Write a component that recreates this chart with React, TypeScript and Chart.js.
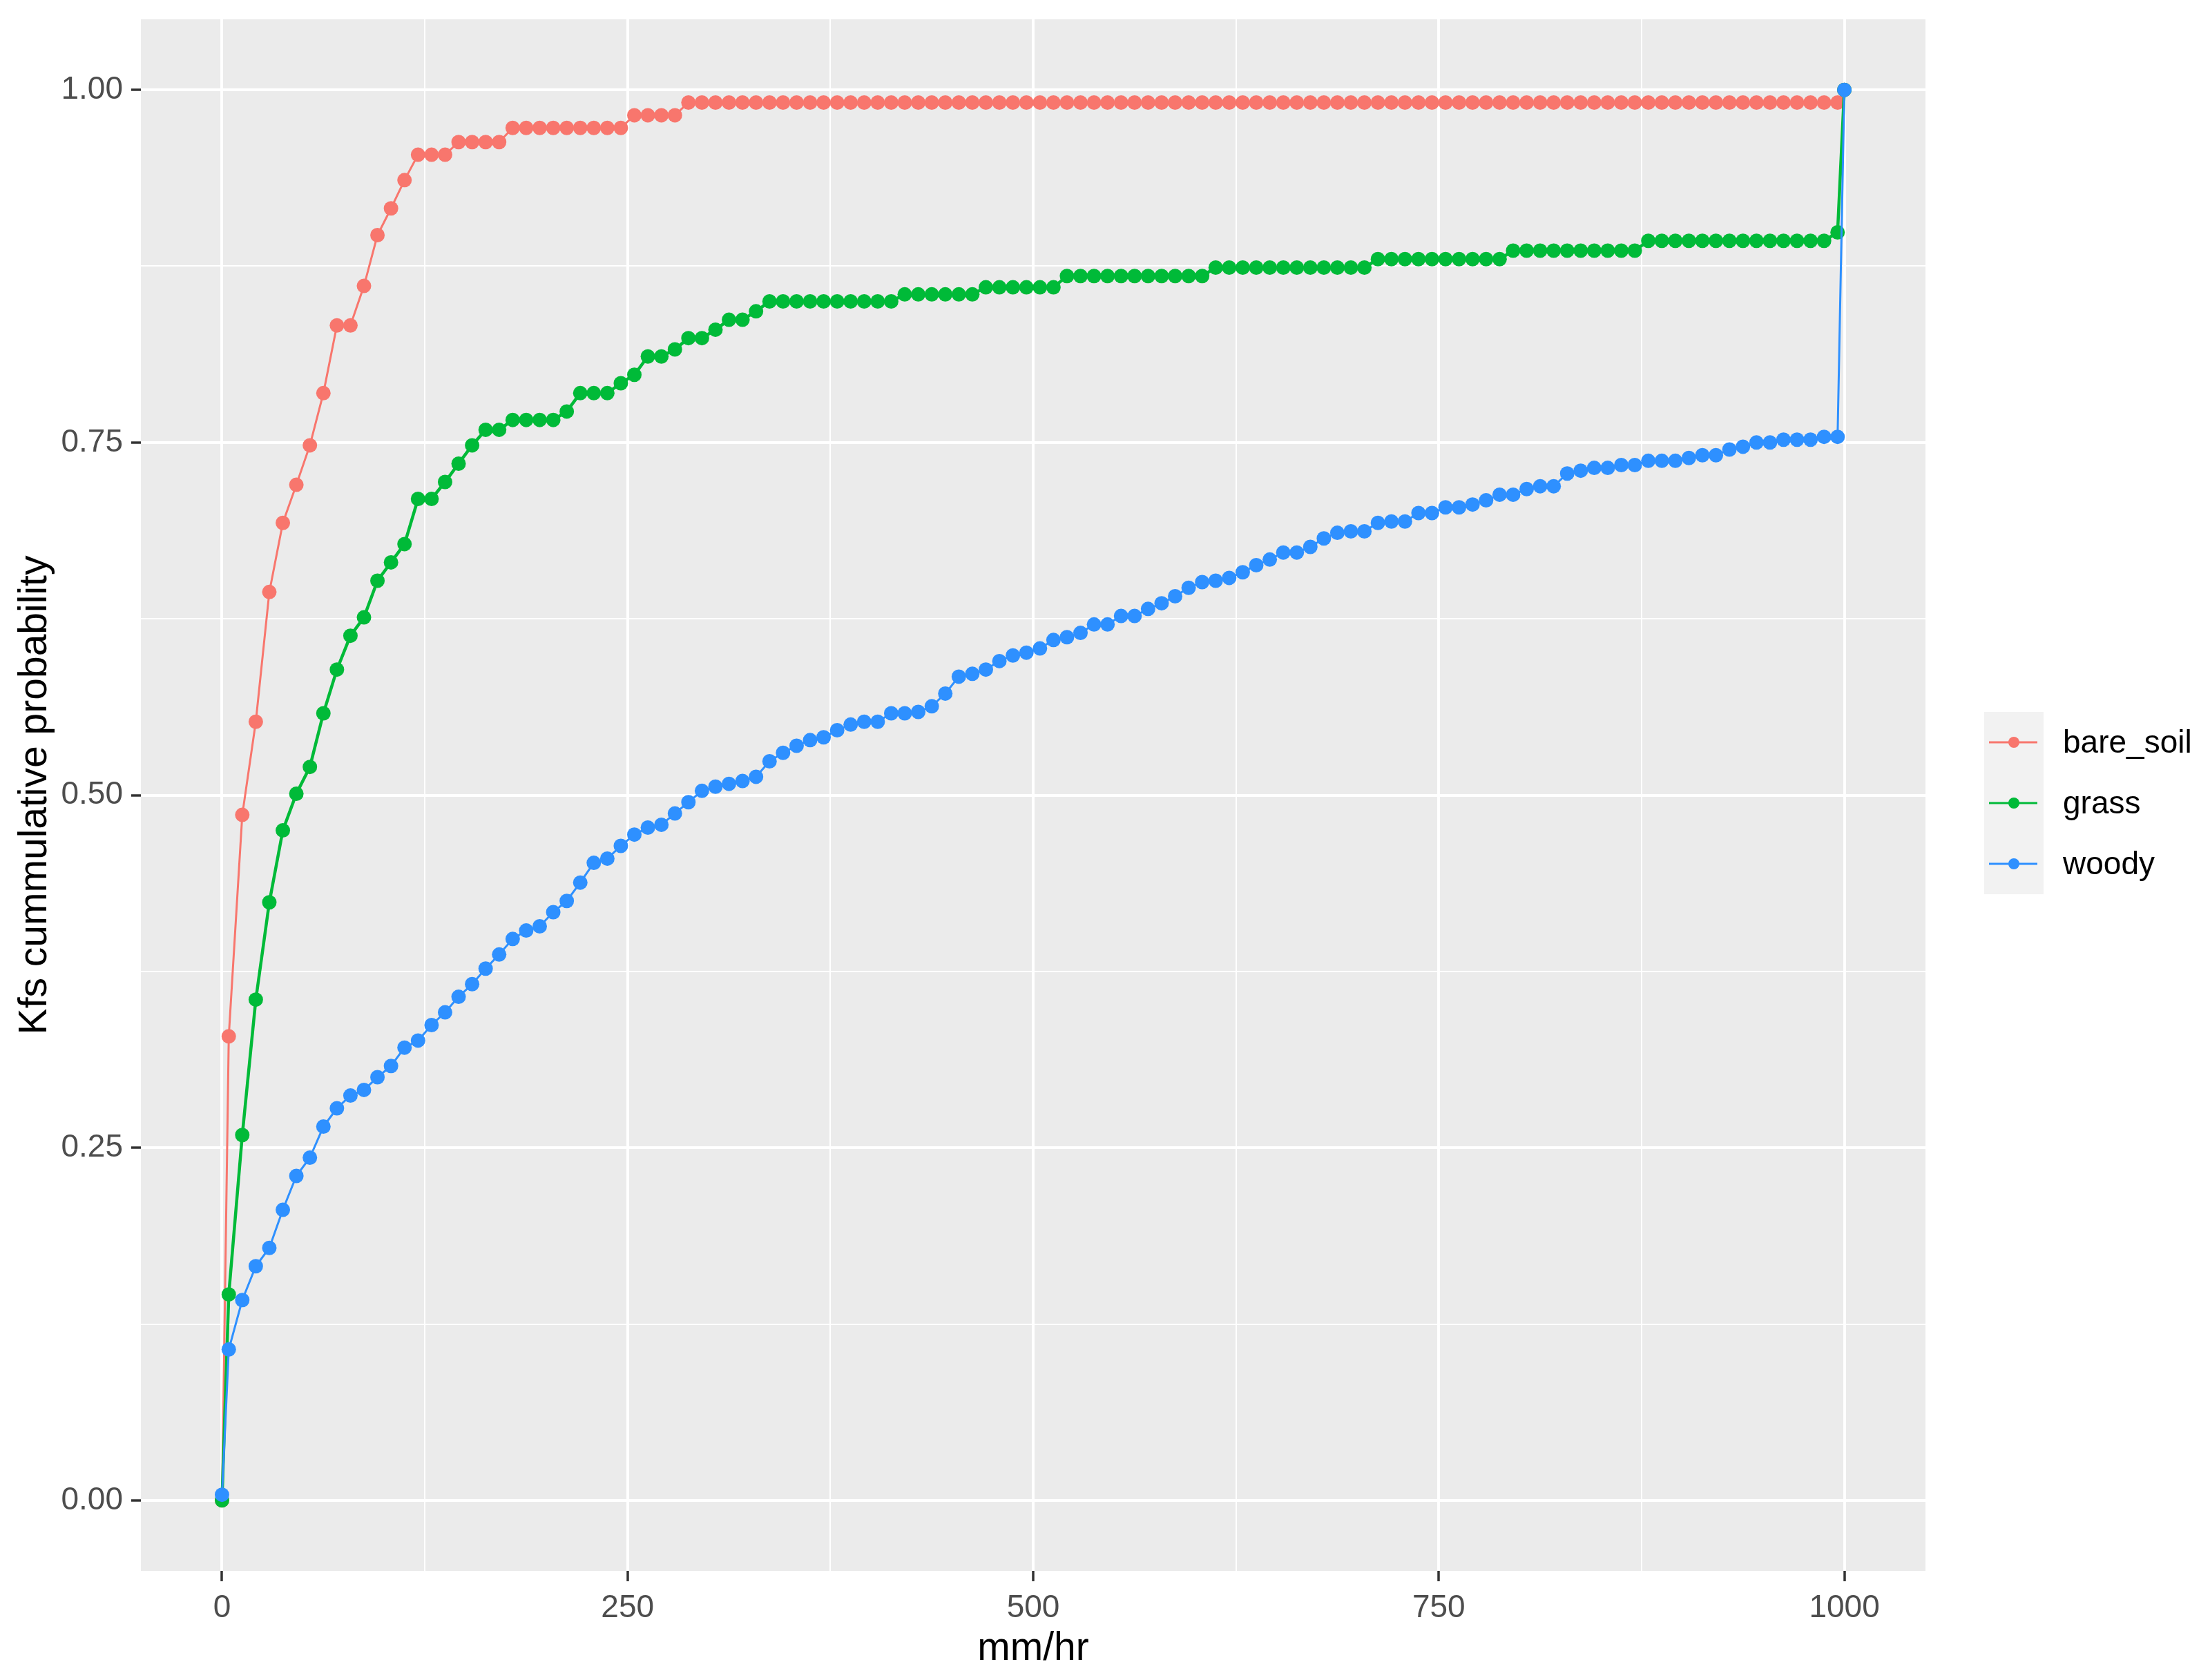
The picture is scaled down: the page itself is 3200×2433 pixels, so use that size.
import React, { useEffect, useRef } from "react";
import { Chart, registerables } from "chart.js";

Chart.register(...registerables);

// ---- data ----
const xValues = [
  0,
  4.17, 12.5, 20.83, 29.17, 37.5, 45.83, 54.17, 62.5, 70.83, 79.17,
  87.5, 95.83, 104.17, 112.5, 120.83, 129.17, 137.5, 145.83, 154.17, 162.5,
  170.83, 179.17, 187.5, 195.83, 204.17, 212.5, 220.83, 229.17, 237.5, 245.83,
  254.17, 262.5, 270.83, 279.17, 287.5, 295.83, 304.17, 312.5, 320.83, 329.17,
  337.5, 345.83, 354.17, 362.5, 370.83, 379.17, 387.5, 395.83, 404.17, 412.5,
  420.83, 429.17, 437.5, 445.83, 454.17, 462.5, 470.83, 479.17, 487.5, 495.83,
  504.17, 512.5, 520.83, 529.17, 537.5, 545.83, 554.17, 562.5, 570.83, 579.17,
  587.5, 595.83, 604.17, 612.5, 620.83, 629.17, 637.5, 645.83, 654.17, 662.5,
  670.83, 679.17, 687.5, 695.83, 704.17, 712.5, 720.83, 729.17, 737.5, 745.83,
  754.17, 762.5, 770.83, 779.17, 787.5, 795.83, 804.17, 812.5, 820.83, 829.17,
  837.5, 845.83, 854.17, 862.5, 870.83, 879.17, 887.5, 895.83, 904.17, 912.5,
  920.83, 929.17, 937.5, 945.83, 954.17, 962.5, 970.83, 979.17, 987.5, 995.83,
  1000,
];

const bareSoil = [
  0,
  0.329, 0.486, 0.552, 0.644, 0.693, 0.72, 0.748, 0.785, 0.833, 0.833,
  0.861, 0.897, 0.916, 0.936, 0.954, 0.954, 0.954, 0.963, 0.963, 0.963,
  0.963, 0.973, 0.973, 0.973, 0.973, 0.973, 0.973, 0.973, 0.973, 0.973,
  0.982, 0.982, 0.982, 0.982, 0.991, 0.991, 0.991, 0.991, 0.991, 0.991,
  0.991, 0.991, 0.991, 0.991, 0.991, 0.991, 0.991, 0.991, 0.991, 0.991,
  0.991, 0.991, 0.991, 0.991, 0.991, 0.991, 0.991, 0.991, 0.991, 0.991,
  0.991, 0.991, 0.991, 0.991, 0.991, 0.991, 0.991, 0.991, 0.991, 0.991,
  0.991, 0.991, 0.991, 0.991, 0.991, 0.991, 0.991, 0.991, 0.991, 0.991,
  0.991, 0.991, 0.991, 0.991, 0.991, 0.991, 0.991, 0.991, 0.991, 0.991,
  0.991, 0.991, 0.991, 0.991, 0.991, 0.991, 0.991, 0.991, 0.991, 0.991,
  0.991, 0.991, 0.991, 0.991, 0.991, 0.991, 0.991, 0.991, 0.991, 0.991,
  0.991, 0.991, 0.991, 0.991, 0.991, 0.991, 0.991, 0.991, 0.991, 0.991,
  1.0,
];

const grass = [
  0,
  0.146, 0.259, 0.355, 0.424, 0.475, 0.501, 0.52, 0.558, 0.589, 0.613,
  0.626, 0.652, 0.665, 0.678, 0.71, 0.71, 0.722, 0.735, 0.748, 0.759,
  0.759, 0.766, 0.766, 0.766, 0.766, 0.772, 0.785, 0.785, 0.785, 0.792,
  0.798, 0.811, 0.811, 0.816, 0.824, 0.824, 0.83, 0.837, 0.837, 0.843,
  0.85, 0.85, 0.85, 0.85, 0.85, 0.85, 0.85, 0.85, 0.85, 0.85,
  0.855, 0.855, 0.855, 0.855, 0.855, 0.855, 0.86, 0.86, 0.86, 0.86,
  0.86, 0.86, 0.868, 0.868, 0.868, 0.868, 0.868, 0.868, 0.868, 0.868,
  0.868, 0.868, 0.868, 0.874, 0.874, 0.874, 0.874, 0.874, 0.874, 0.874,
  0.874, 0.874, 0.874, 0.874, 0.874, 0.88, 0.88, 0.88, 0.88, 0.88,
  0.88, 0.88, 0.88, 0.88, 0.88, 0.886, 0.886, 0.886, 0.886, 0.886,
  0.886, 0.886, 0.886, 0.886, 0.886, 0.893, 0.893, 0.893, 0.893, 0.893,
  0.893, 0.893, 0.893, 0.893, 0.893, 0.893, 0.893, 0.893, 0.893, 0.899,
  1.0,
];

const woody = [
  0.004,
  0.107, 0.142, 0.166, 0.179, 0.206, 0.23, 0.243, 0.265, 0.278, 0.287,
  0.291, 0.3, 0.308, 0.321, 0.326, 0.337, 0.346, 0.357, 0.366, 0.377,
  0.387, 0.398, 0.404, 0.407, 0.417, 0.425, 0.438, 0.452, 0.455, 0.464,
  0.472, 0.477, 0.479, 0.487, 0.495, 0.503, 0.506, 0.508, 0.51, 0.513,
  0.524, 0.53, 0.535, 0.539, 0.541, 0.546, 0.55, 0.552, 0.552, 0.558,
  0.558, 0.559, 0.563, 0.572, 0.584, 0.586, 0.589, 0.595, 0.599, 0.601,
  0.604, 0.61, 0.612, 0.615, 0.621, 0.621, 0.627, 0.627, 0.632, 0.636,
  0.641, 0.647, 0.651, 0.652, 0.654, 0.658, 0.663, 0.667, 0.672, 0.672,
  0.676, 0.682, 0.686, 0.687, 0.687, 0.693, 0.694, 0.694, 0.7, 0.7,
  0.704, 0.704, 0.706, 0.709, 0.713, 0.713, 0.717, 0.719, 0.719, 0.728,
  0.73, 0.732, 0.732, 0.734, 0.734, 0.737, 0.737, 0.737, 0.739, 0.741,
  0.741, 0.745, 0.747, 0.75, 0.75, 0.752, 0.752, 0.752, 0.754, 0.754,
  1.0,
];

const seriesNames = ["bare_soil", "grass", "woody"];
const seriesValues = [bareSoil, grass, woody];
const seriesColors = ["#F8766D", "#00BA38", "#2E90FF"];
const seriesLineWidths = [3, 4.5, 3];

const xMajorTicks = [0, 250, 500, 750, 1000];
const xMinorTicks = [125, 375, 625, 875];
const xTickLabels = ["0", "250", "500", "750", "1000"];
const yMajorTicks = [0, 0.25, 0.5, 0.75, 1];
const yMinorTicks = [0.125, 0.375, 0.625, 0.875];
const yTickLabels = ["0.00", "0.25", "0.50", "0.75", "1.00"];

const xTitle = "mm/hr";
const yTitle = "Kfs cummulative probability";

// ---- styling ----
const W = 3200;
const H = 2433;
const FONT = '"Liberation Sans", Arial, "DejaVu Sans", sans-serif';
const PANEL_BG = "#EBEBEB";

const panelBackground = {
  id: "panelBackground",
  beforeDraw(chart: any) {
    const { ctx, chartArea: a } = chart;
    ctx.save();
    ctx.fillStyle = PANEL_BG;
    ctx.fillRect(a.left, a.top, a.right - a.left, a.bottom - a.top);
    ctx.restore();
  },
};

const keyLegend = {
  id: "keyLegend",
  afterDraw(chart: any) {
    const { ctx, chartArea: a } = chart;
    const keyLeft = a.right + 85;
    const keyW = 86;
    const keyH = 88;
    const top = 1031;
    const sets = chart.data.datasets;
    ctx.save();
    ctx.fillStyle = "#F2F2F2";
    ctx.fillRect(keyLeft, top, keyW, keyH * sets.length);
    sets.forEach((ds: any, i: number) => {
      const cy = top + keyH * (i + 0.5);
      ctx.strokeStyle = ds.borderColor;
      ctx.lineWidth = 3;
      ctx.beginPath();
      ctx.moveTo(keyLeft + 7, cy);
      ctx.lineTo(keyLeft + keyW - 9, cy);
      ctx.stroke();
      ctx.fillStyle = ds.backgroundColor;
      ctx.beginPath();
      ctx.arc(keyLeft + keyW / 2, cy, 8, 0, Math.PI * 2);
      ctx.fill();
      ctx.fillStyle = "#000000";
      ctx.font = `46px ${FONT}`;
      ctx.textAlign = "left";
      ctx.textBaseline = "middle";
      ctx.fillText(ds.label, keyLeft + 114, cy + 2);
    });
    ctx.restore();
  },
};

function isIn(list: number[], v: number) {
  return list.some((t) => Math.abs(t - v) < 1e-9);
}

export default function App() {
  const canvasRef = useRef<HTMLCanvasElement | null>(null);

  useEffect(() => {
    const canvas = canvasRef.current;
    if (!canvas) return;

    const datasets = seriesNames.map((name, i) => ({
      label: name,
      data: xValues.map((x, j) => ({ x, y: seriesValues[i][j] })),
      borderColor: seriesColors[i],
      backgroundColor: seriesColors[i],
      borderWidth: seriesLineWidths[i],
      pointRadius: 10.5,
      pointHoverRadius: 10.5,
      pointBorderWidth: 0,
      showLine: true,
      tension: 0,
      order: seriesNames.length - i,
      clip: false as any,
    }));

    const chart = new Chart(canvas, {
      type: "scatter",
      data: { datasets },
      plugins: [panelBackground, keyLegend],
      options: {
        animation: false,
        responsive: false,
        maintainAspectRatio: false,
        devicePixelRatio: 1,
        events: [],
        layout: { padding: { left: 0, top: 28, right: W - 2788, bottom: 0 } },
        plugins: {
          legend: { display: false },
          tooltip: { enabled: false },
          title: { display: false },
        },
        scales: {
          x: {
            type: "linear",
            min: -50,
            max: 1050,
            afterBuildTicks: (s: any) => {
              s.ticks = [...xMajorTicks, ...xMinorTicks]
                .sort((p, q) => p - q)
                .map((v) => ({ value: v }));
            },
            afterFit: (s: any) => {
              s.height = 158;
              s.paddingLeft = 0;
              s.paddingRight = 0;
            },
            border: { display: false },
            grid: {
              color: "#FFFFFF",
              lineWidth: (c: any) => (c.tick && isIn(xMajorTicks, c.tick.value) ? 4 : 2),
              drawTicks: true,
              tickLength: 15,
              tickWidth: 3.5,
              tickColor: (c: any) =>
                c.tick && isIn(xMajorTicks, c.tick.value) ? "#333333" : "rgba(0,0,0,0)",
            },
            ticks: {
              autoSkip: false,
              maxRotation: 0,
              padding: 12,
              color: "#4D4D4D",
              font: { family: FONT, size: 46 },
              callback: (v: any) => {
                const idx = xMajorTicks.findIndex((t) => Math.abs(t - Number(v)) < 1e-9);
                return idx >= 0 ? xTickLabels[idx] : "";
              },
            },
            title: {
              display: true,
              text: xTitle,
              color: "#000000",
              font: { family: FONT, size: 57 },
              padding: { top: 0, bottom: 11 },
            },
          },
          y: {
            type: "linear",
            min: -0.05,
            max: 1.05,
            afterBuildTicks: (s: any) => {
              s.ticks = [...yMajorTicks, ...yMinorTicks]
                .sort((p, q) => p - q)
                .map((v) => ({ value: v }));
            },
            afterFit: (s: any) => {
              s.width = 204;
              s.paddingTop = 0;
              s.paddingBottom = 0;
            },
            border: { display: false },
            grid: {
              color: "#FFFFFF",
              lineWidth: (c: any) => (c.tick && isIn(yMajorTicks, c.tick.value) ? 4 : 2),
              drawTicks: true,
              tickLength: 14,
              tickWidth: 3.5,
              tickColor: (c: any) =>
                c.tick && isIn(yMajorTicks, c.tick.value) ? "#333333" : "rgba(0,0,0,0)",
            },
            ticks: {
              autoSkip: false,
              padding: 12,
              color: "#4D4D4D",
              font: { family: FONT, size: 46 },
              callback: (v: any) => {
                const idx = yMajorTicks.findIndex((t) => Math.abs(t - Number(v)) < 1e-9);
                return idx >= 0 ? yTickLabels[idx] : "";
              },
            },
            title: {
              display: true,
              text: yTitle,
              color: "#000000",
              font: { family: FONT, size: 57 },
              padding: { top: 17, bottom: 0 },
            },
          },
        },
      } as any,
    });

    return () => {
      chart.destroy();
    };
  }, []);

  return (
    <div style={{ position: "absolute", left: 0, top: 0, width: W, height: H, background: "#FFFFFF" }}>
      <canvas ref={canvasRef} width={W} height={H} style={{ display: "block", width: W, height: H }} />
    </div>
  );
}
